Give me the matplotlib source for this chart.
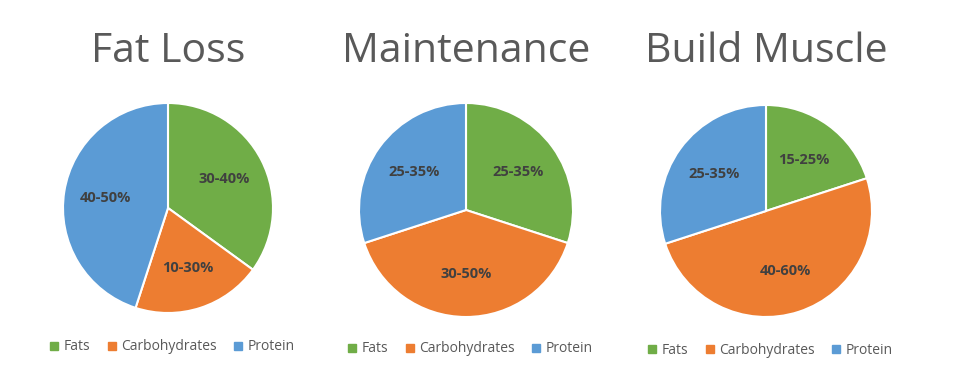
import matplotlib.pyplot as plt
import numpy as np

plt.rcParams['font.family'] = ['Open Sans', 'DejaVu Sans']

nutrients = ["Fats", "Carbohydrates", "Protein"]
colors = ["#70AD47", "#ED7D31", "#5B9BD5"]

titles = ["Fat Loss", "Maintenance", "Build Muscle"]
# slice sizes (percent of circle)
shares = [
    [35, 20, 45],
    [30, 40, 30],
    [20, 50, 30],
]
range_labels = [
    ["30-40%", "10-30%", "40-50%"],
    ["25-35%", "30-50%", "25-35%"],
    ["15-25%", "40-60%", "25-35%"],
]

W, H = 957, 368
fig = plt.figure(figsize=(W / 100, H / 100), dpi=100)

# pie centre x, centre y (from top), radius in pixels
layout = [(168, 208, 105), (466, 210, 107), (766, 211, 106)]

for i, (cx, cy, r) in enumerate(layout):
    ax = fig.add_axes([(cx - r) / W, (H - cy - r) / H, 2 * r / W, 2 * r / H])
    wedges, _ = ax.pie(shares[i], colors=colors, startangle=90, counterclock=False,
                       radius=1, wedgeprops=dict(edgecolor="white", linewidth=1.5))
    for w, lab in zip(wedges, range_labels[i]):
        ang = np.deg2rad((w.theta1 + w.theta2) / 2)
        ax.text(0.6 * np.cos(ang), 0.6 * np.sin(ang), lab, ha="center", va="center",
                fontsize=10.5, fontweight="bold", color="#404040")
    ax.set_xlim(-1, 1)
    ax.set_ylim(-1, 1)
    ax.set_aspect("equal")
    ax.axis("off")

    fig.text(cx / W, 1 - 52 / H, titles[i], ha="center", va="center",
             fontsize=29.5, color="#595959")

    handles = [plt.Line2D([], [], marker="s", linestyle="", markersize=5.5,
                          markerfacecolor=c, markeredgecolor=c) for c in colors]
    fig.legend(handles, nutrients, loc="center", ncol=3, frameon=False,
               bbox_to_anchor=((cx + 3) / W, 1 - (cy + 139) / H),
               fontsize=10, labelcolor="#595959", handletextpad=0.2,
               columnspacing=1.0, handlelength=1.0)

fig.savefig("out.png", dpi=100, facecolor="white")
